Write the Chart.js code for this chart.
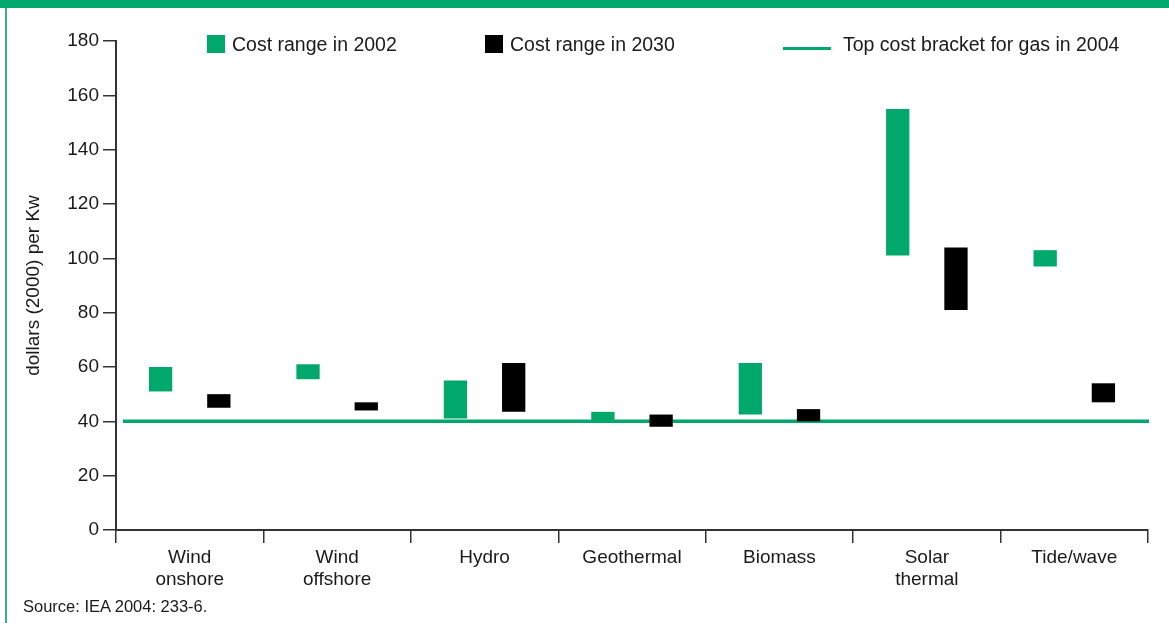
<!DOCTYPE html>
<html>
<head>
<meta charset="utf-8">
<script src="https://cdn.jsdelivr.net/npm/chart.js@4.4.1/dist/chart.umd.min.js"></script>
<style>
  html, body { margin: 0; padding: 0; background: #fff; }
  body { width: 1169px; height: 623px; position: relative; overflow: hidden;
         font-family: "Liberation Sans", Arial, sans-serif; color: #1a1a1a; }
  #topband { position: absolute; left: 0; top: 0; width: 1169px; height: 8px; background: #00a86b; }
  #leftline { position: absolute; left: 5px; top: 8px; width: 1.5px; height: 615px; background: #2fb57c; }
  #wrap { position: absolute; left: 0; top: 0; width: 1169px; height: 623px; }
  .leg { position: absolute; top: 34px; font-size: 19.5px; line-height: 20px; white-space: nowrap; }
  .sw { position: absolute; top: 35px; width: 18px; height: 18px; }
  #source { position: absolute; left: 23px; top: 597px; font-size: 16.5px; }
</style>
</head>
<body>
<div id="topband"></div>
<div id="leftline"></div>
<div id="wrap"><canvas id="myChart" width="1169" height="623"></canvas></div>
<div class="sw" style="left:207px; background:#00a86b;"></div>
<div class="leg" style="left:232px;">Cost range in 2002</div>
<div class="sw" style="left:485px; background:#000;"></div>
<div class="leg" style="left:510px;">Cost range in 2030</div>
<div style="position:absolute; left:783px; top:47px; width:48px; height:3px; background:#00a86b;"></div>
<div class="leg" style="left:843px;">Top cost bracket for gas in 2004</div>
<div id="source">Source: IEA 2004: 233-6.</div>
<script>
const categories = [['Wind', 'onshore'], ['Wind', 'offshore'], 'Hydro', 'Geothermal', 'Biomass', ['Solar', 'thermal'], 'Tide/wave'];

// cost ranges, dollars (2000) per Kw
const low2002  = [51, 55.5, 41, 40, 42.5, 101, 97];
const high2002 = [60, 61, 55, 43.5, 61.5, 155, 103];
const low2030  = [45, 44, 43.5, 38, 40, 81, 47];
const high2030 = [50, 47, 61.5, 42.5, 44.5, 104, 54];

const gasTop2004 = 40;
const yTicks = [0, 20, 40, 60, 80, 100, 120, 140, 160, 180];

const range2002 = low2002.map((v, i) => [v, high2002[i]]);
const range2030 = low2030.map((v, i) => [v, high2030[i]]);

const ctx = document.getElementById('myChart').getContext('2d');
const axisColor = '#333';

// horizontal gas price line, drawn under the bars
const gasLine = {
    id: 'gasLine',
    beforeDatasetsDraw(chart) {
        const { ctx, chartArea, scales } = chart;
        const y = scales.y.getPixelForValue(gasTop2004);
        ctx.save();
        ctx.strokeStyle = '#00a86b';
        ctx.lineWidth = 3.5;
        ctx.beginPath();
        ctx.moveTo(chartArea.left + 7, y);
        ctx.lineTo(chartArea.right + 1, y);
        ctx.stroke();
        ctx.restore();
    }
};

const myChart = new Chart(ctx, {
    type: 'bar',
    data: {
        labels: categories,
        datasets: [
            {
                label: 'Cost range in 2002',
                data: range2002,
                backgroundColor: '#00a86b'
            },
            {
                label: 'Cost range in 2030',
                data: range2030,
                backgroundColor: '#000000'
            }
        ]
    },
    options: {
        responsive: false,
        animation: false,
        categoryPercentage: 0.79,
        barPercentage: 0.4,
        layout: { padding: { top: 41, right: 21, left: 0, bottom: 0 } },
        plugins: { legend: { display: false }, tooltip: { enabled: false } },
        scales: {
            x: {
                offset: true,
                grid: { offset: true, drawOnChartArea: false, tickLength: 13, color: axisColor, lineWidth: 1.5 },
                border: { color: axisColor, width: 2 },
                ticks: { color: '#1a1a1a', font: { size: 19, family: 'Liberation Sans' }, padding: 3, maxRotation: 0 },
                afterFit: s => { s.height = 93; }
            },
            y: {
                min: 0,
                max: 180,
                afterBuildTicks: s => { s.ticks = yTicks.map(v => ({ value: v })); },
                grid: { drawOnChartArea: false, tickLength: 13, color: axisColor, lineWidth: 1.5 },
                border: { color: axisColor, width: 2 },
                ticks: { color: '#1a1a1a', font: { size: 19, family: 'Liberation Sans' }, padding: 4 },
                title: {
                    display: true,
                    text: 'dollars (2000) per Kw',
                    color: '#1a1a1a',
                    font: { size: 19, family: 'Liberation Sans' },
                    padding: { top: 22, bottom: 4 }
                },
                afterFit: s => { s.width = 116; }
            }
        }
    },
    plugins: [gasLine]
});
</script>
</body>
</html>
